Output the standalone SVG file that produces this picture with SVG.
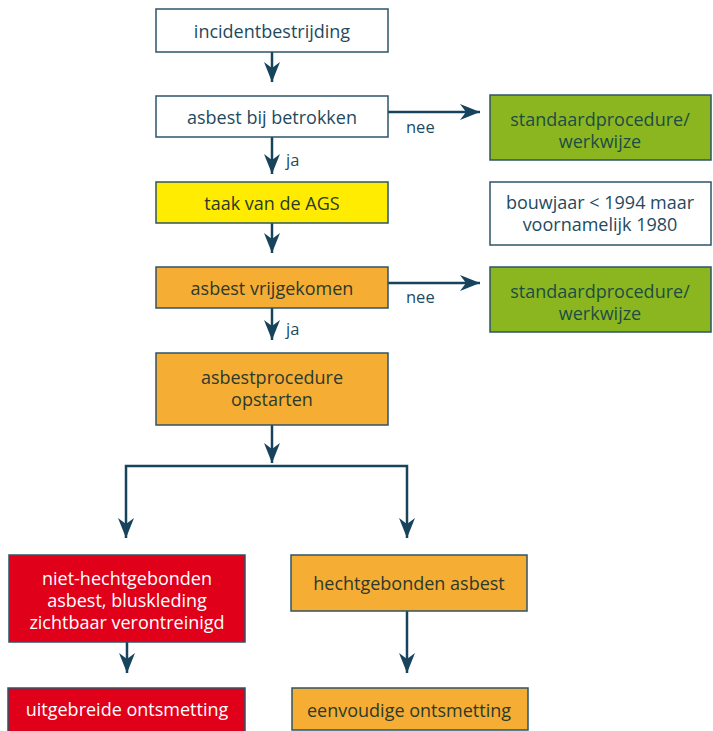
<svg xmlns="http://www.w3.org/2000/svg" width="713" height="731" viewBox="0 0 713 731">
<defs>
<style>
.box{stroke:#2c5468;stroke-width:1.5}
.w{fill:#ffffff}
.y{fill:#ffec00}
.o{fill:#f6ad33}
.g{fill:#8cb61f}
.r{fill:#e1001a}
text{font-family:"Open Sans","Noto Sans","Liberation Sans",sans-serif;font-size:18px;text-anchor:middle;dominant-baseline:central}
.tw{fill:#1f4a5e}
.td{fill:#2b3a2c}
.tg{fill:#1d4d45}
.tr{fill:#ffffff}
.lbl{fill:#1f4a5e;text-anchor:start;font-size:16.5px}
.con{fill:none;stroke:#17445c;stroke-width:2.5}
</style>
<marker id="ah" viewBox="0 -9 20 18" refX="20" refY="0" markerWidth="20" markerHeight="18" markerUnits="userSpaceOnUse" orient="auto-start-reverse">
<path d="M0,-8 L20,0 L0,8 L6,0 z" fill="#17445c"/>
</marker>
</defs>
<rect width="713" height="731" fill="#ffffff"/>
<g id="connectors">
<path class="con" d="M272,52 V82" marker-end="url(#ah)"/>
<path class="con" d="M272,137 V174" marker-end="url(#ah)"/>
<path class="con" d="M388,112 H480" marker-end="url(#ah)"/>
<path class="con" d="M272,223 V253" marker-end="url(#ah)"/>
<path class="con" d="M388,283 H480" marker-end="url(#ah)"/>
<path class="con" d="M272,308 V340" marker-end="url(#ah)"/>
<path class="con" d="M272,425 V463" marker-end="url(#ah)"/>
<path class="con" d="M126,538 V466 H407 V538" marker-start="url(#ah)" marker-end="url(#ah)"/>
<path class="con" d="M127,642 V673" marker-end="url(#ah)"/>
<path class="con" d="M407,611 V673" marker-end="url(#ah)"/>
<text class="lbl" x="406" y="126">nee</text>
<text class="lbl" x="286" y="159">ja</text>
<text class="lbl" x="406" y="296">nee</text>
<text class="lbl" x="286" y="328">ja</text>
</g>
<g id="n1"><rect class="box w" x="156" y="9" width="232" height="43"/><text class="tw" x="272" y="31">incidentbestrijding</text></g>
<g id="n2"><rect class="box w" x="156" y="96" width="232" height="41"/><text class="tw" x="272" y="117">asbest bij betrokken</text></g>
<g id="n3"><rect class="box y" x="156" y="182" width="232" height="41"/><text class="td" x="272" y="203">taak van de AGS</text></g>
<g id="n4"><rect class="box o" x="156" y="267" width="232" height="41"/><text class="td" x="272" y="288">asbest vrijgekomen</text></g>
<g id="n5"><rect class="box o" x="156" y="353" width="232" height="72"/><text class="td" x="272" y="377">asbestprocedure</text><text class="td" x="272" y="399">opstarten</text></g>
<g id="g1"><rect class="box g" x="490" y="95" width="221" height="65"/><text class="tg" x="600" y="119">standaardprocedure/</text><text class="tg" x="600" y="141">werkwijze</text></g>
<g id="note"><rect class="box w" x="490" y="182" width="221" height="63"/><text class="tw" x="600" y="202">bouwjaar &lt; 1994 maar</text><text class="tw" x="600" y="224">voornamelijk 1980</text></g>
<g id="g2"><rect class="box g" x="490" y="267" width="221" height="65"/><text class="tg" x="600" y="291">standaardprocedure/</text><text class="tg" x="600" y="313">werkwijze</text></g>
<g id="n6"><rect class="box r" x="9" y="555" width="236" height="87"/><text class="tr" x="127" y="578">niet-hechtgebonden</text><text class="tr" x="127" y="600">asbest, bluskleding</text><text class="tr" x="127" y="622">zichtbaar verontreinigd</text></g>
<g id="n7"><rect class="box o" x="291" y="555" width="236" height="56"/><text class="td" x="409" y="583">hechtgebonden asbest</text></g>
<g id="n8"><rect class="box r" x="8" y="688" width="237" height="45"/><text class="tr" x="127" y="709">uitgebreide ontsmetting</text></g>
<g id="n9"><rect class="box o" x="292" y="688" width="236" height="42"/><text class="td" x="409" y="710">eenvoudige ontsmetting</text></g>
</svg>
